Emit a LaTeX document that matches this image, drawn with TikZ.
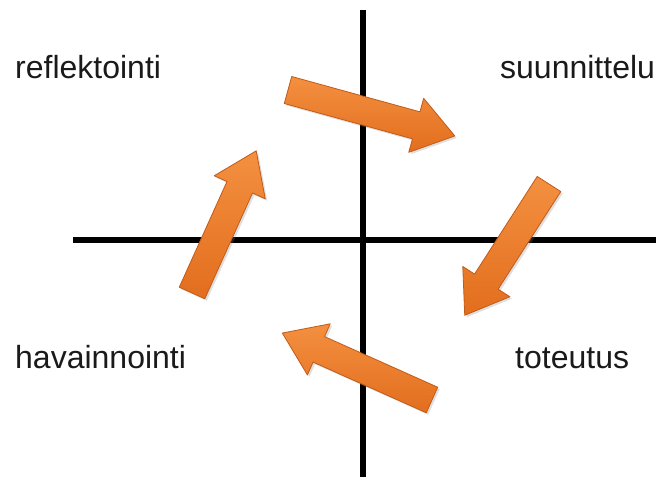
\documentclass[tikz,border=0pt]{standalone}
\usepackage{fontspec}
\setmainfont{Liberation Sans}
\usetikzlibrary{shadows}
\definecolor{arrlight}{HTML}{F39040}
\definecolor{arrdark}{HTML}{E26E1E}
\definecolor{arredge}{HTML}{C25A18}
\definecolor{txt}{HTML}{1A1A1A}
\tikzset{
  axisline/.style={line width=6pt, black},
  lbl/.style={anchor=base west, inner sep=0pt, text=txt, font=\fontsize{32}{38}\selectfont},
  blockarrow/.style={top color=arrlight, bottom color=arrdark, draw=arredge, line width=0.8pt, line join=round,
    drop shadow={opacity=0.25, shadow xshift=2pt, shadow yshift=-2pt}}
}
\newcommand\myblockarrow[4]{%
  \begin{scope}[shift={(#1,#2)}, rotate=#3]
    \path[blockarrow] (0,-14) -- (#4-40,-14) -- (#4-40,-28) -- (#4,0) -- (#4-40,28) -- (#4-40,14) -- (0,14) -- cycle;
  \end{scope}}
\begin{document}
\begin{tikzpicture}[x=1pt, y=-1pt]
\useasboundingbox (0,0) rectangle (656,477);
\coordinate (vtop) at (363,10);
\coordinate (vbot) at (363,477);
\coordinate (hleft) at (73,240);
\coordinate (hright) at (656,240);
\draw[axisline] (vtop) -- (vbot);
\draw[axisline] (hleft) -- (hright);
\node[lbl] (refl) at (15,78) {reflektointi};
\node[lbl] (suun) at (500,78) {suunnittelu};
\node[lbl] (hava) at (15,368) {havainnointi};
\node[lbl] (tote) at (515,368) {toteutus};
\myblockarrow{288}{90}{-15.4}{173}
\myblockarrow{549}{184}{-122.7}{156}
\myblockarrow{192}{293}{65.7}{156}
\myblockarrow{432}{400}{155.9}{164}
\end{tikzpicture}
\end{document}
